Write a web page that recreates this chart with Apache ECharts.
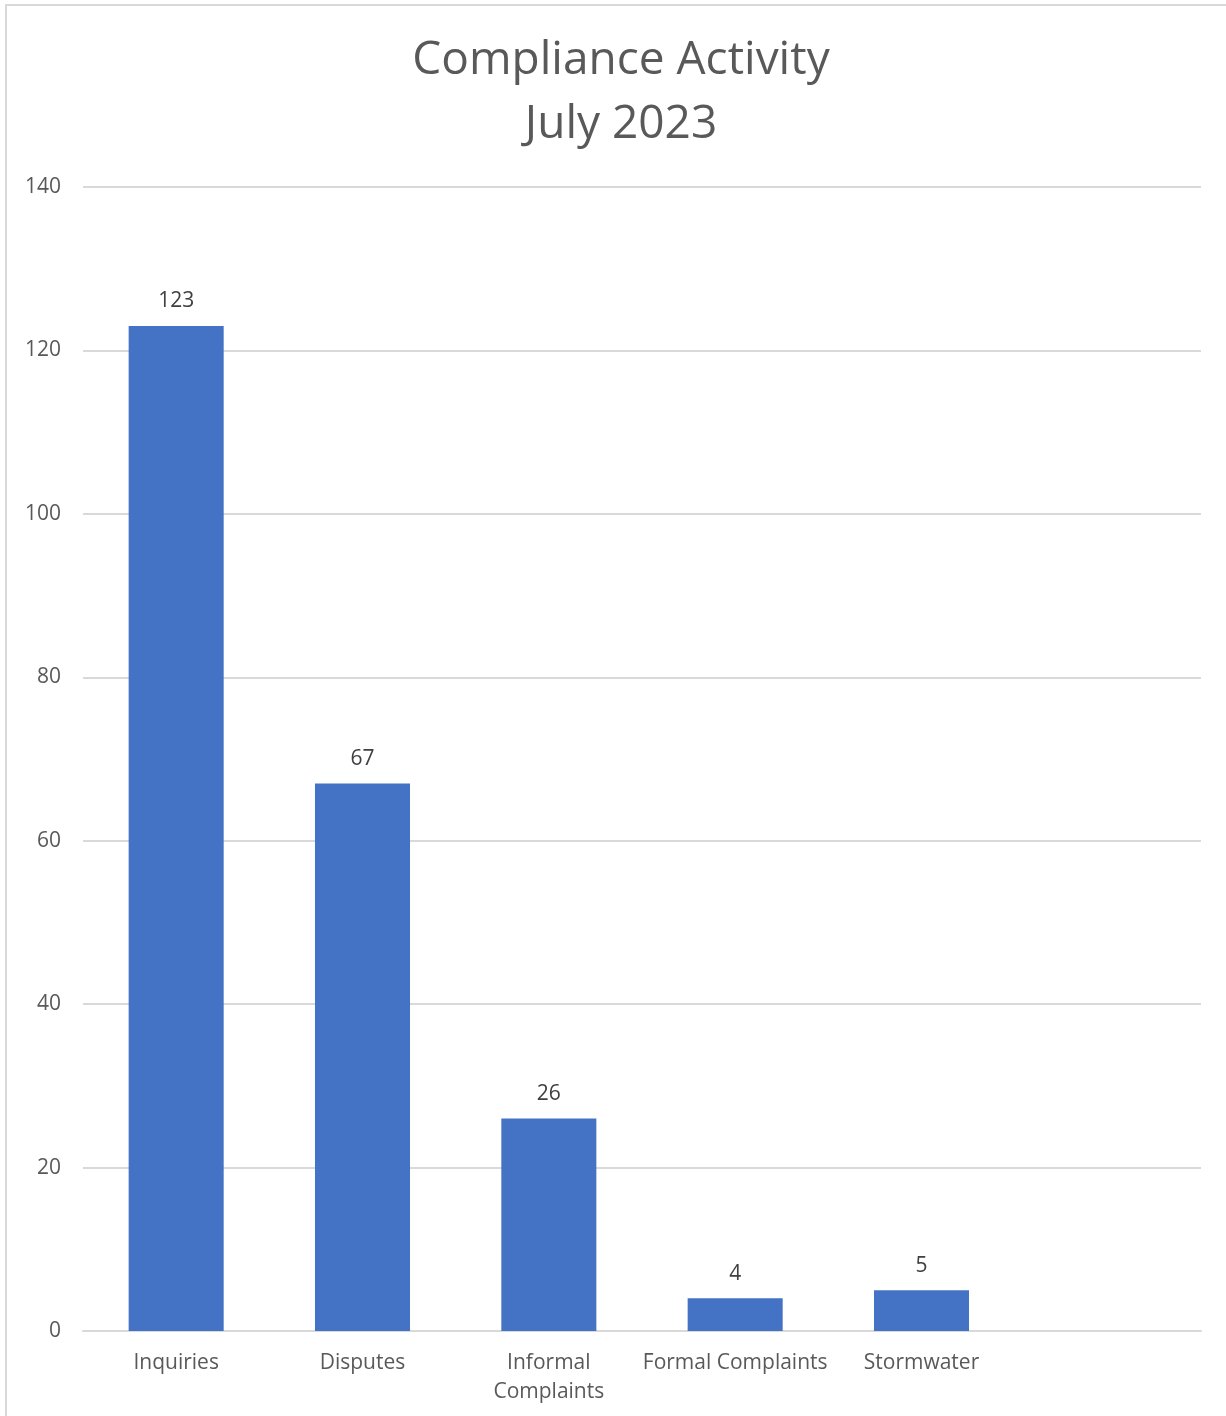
<!DOCTYPE html>
<html>
<head>
<meta charset="utf-8">
<script src="https://cdn.jsdelivr.net/npm/echarts@6/dist/echarts.min.js"></script>
<style>
html,body{margin:0;padding:0;background:#fff;}
#chart{width:1226px;height:1416px;}
</style>
</head>
<body>
<div id="chart"></div>
<script>
const titleText = "Compliance Activity\nJuly 2023";
const categories = ["Inquiries", "Disputes", "Informal\nComplaints", "Formal Complaints", "Stormwater"];
const values = [123, 67, 26, 4, 5];
const yTicks = [0, 20, 40, 60, 80, 100, 120, 140];

const FONT = "'Open Sans', sans-serif";
const chart = echarts.init(document.getElementById('chart'), null, {renderer: 'canvas'});
chart.setOption({
  backgroundColor: '#ffffff',
  animation: false,
  graphic: [{
    type: 'rect',
    shape: {x: 6, y: 5, width: 1230, height: 1420},
    style: {fill: 'none', stroke: '#d9d9d9', lineWidth: 2},
    silent: true
  }],
  title: {
    text: titleText,
    left: 616,
    textAlign: 'center',
    top: 24,
    textStyle: {
      fontFamily: FONT, fontSize: 46, fontWeight: 'normal', color: '#595959', lineHeight: 64
    }
  },
  grid: {left: 83, right: 25, top: 187, bottom: 85, containLabel: false},
  xAxis: {
    type: 'category',
    data: categories,
    max: 5,
    axisLine: {show: true, lineStyle: {color: '#d9d9d9', width: 2}},
    axisTick: {show: false},
    axisLabel: {
      interval: 0, margin: 18, fontFamily: FONT, fontSize: 21, color: '#595959', lineHeight: 29
    }
  },
  yAxis: {
    type: 'value',
    min: yTicks[0],
    max: yTicks[yTicks.length - 1],
    interval: 20,
    axisLine: {show: false},
    axisTick: {show: false},
    axisLabel: {margin: 22, fontFamily: FONT, fontSize: 21, color: '#595959'},
    splitLine: {lineStyle: {color: '#d9d9d9', width: 2}}
  },
  series: [{
    type: 'bar',
    data: values,
    barWidth: '51%',
    itemStyle: {color: '#4472c4'},
    label: {
      show: true, position: 'top', distance: 14,
      fontFamily: FONT, fontSize: 21, color: '#404040'
    }
  }]
});
</script>
</body>
</html>
